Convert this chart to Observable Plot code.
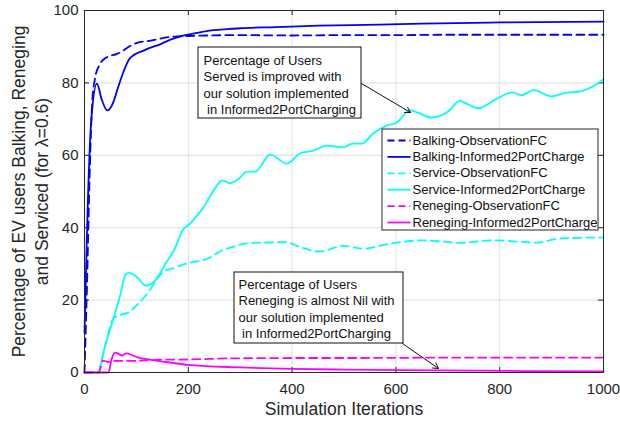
<!DOCTYPE html>
<html><head><meta charset="utf-8">
<script src="https://cdn.jsdelivr.net/npm/d3@7"></script>
<script src="https://cdn.jsdelivr.net/npm/@observablehq/plot@0.6"></script>
<style>body{margin:0;background:#fff}#chart svg{display:block}</style>
</head><body><div id="chart"></div>
<script>
// ---- data ----
const xTicks = [0, 200, 400, 600, 800, 1000];
const yTicks = [0, 20, 40, 60, 80, 100];
const seriesNames = ["Balking-ObservationFC", "Balking-Informed2PortCharge", "Service-ObservationFC", "Service-Informed2PortCharge", "Reneging-ObservationFC", "Reneging-Informed2PortCharge"];

const balkObsX = [0, 5, 10, 15, 20, 29, 42, 63, 96, 128, 173, 212, 300, 400, 500, 600, 700, 800, 900, 1000];
const balkObsY = [0, 25, 55, 75, 81, 85, 87, 88, 90.8, 91.7, 92.8, 93, 93.2, 93.1, 93.2, 93.2, 93.3, 93.3, 93.3, 93.3];

const balkInfX = [0, 5, 13, 24, 33, 44, 55, 63, 75, 87, 115, 148, 167, 192, 217, 244, 263, 300, 367, 450, 569, 650, 800, 1000];
const balkInfY = [11, 40, 69.6, 79.8, 75.5, 72.4, 74.5, 78, 83, 86.7, 89, 90.8, 92, 93.1, 93.8, 94.5, 94.7, 95.1, 95.4, 95.8, 96.1, 96.4, 96.7, 96.9];

const servObsX = [0, 25, 40, 56, 70, 85, 100, 121, 150, 175, 194, 238, 265, 281, 315, 390, 409, 454, 498, 537, 588, 652, 704, 723, 787, 871, 915, 1000];
const servObsY = [0, 0, 7.5, 15, 16, 16.6, 18.5, 21.8, 27.6, 29, 30, 31.5, 33.7, 34.5, 35.7, 36, 35, 33.4, 35, 34.2, 35.6, 36.5, 36, 35.8, 36.5, 35.9, 37, 37.3];

const servInfX = [0, 25, 40, 56, 69, 79, 86, 95, 104, 117, 136, 156, 175, 188, 204, 229, 249, 265, 281, 297, 313, 329, 358, 390, 415, 441, 467, 498, 517, 534, 556, 582, 601, 627, 642, 669, 700, 723, 740, 758, 794, 825, 842, 865, 900, 929, 954, 977, 1000];
const servInfY = [0, 0, 7.5, 15, 21.5, 27, 27.5, 27, 26, 24, 25.4, 30, 34.5, 39, 41.2, 45.6, 50.3, 53, 52.3, 53.5, 55.5, 55.5, 60.2, 57.7, 60.5, 61.3, 62.7, 62.2, 63.2, 63.2, 66, 68.2, 69, 72.4, 71.8, 70.4, 72, 75, 74, 73, 75.6, 77.4, 76.6, 78, 76.3, 77.3, 77.6, 78.8, 81];

const renObsX = [0, 28, 35, 45, 60, 100, 128, 200, 283, 400, 500, 700, 1000];
const renObsY = [0, 0, 3.3, 2.9, 3.2, 3.2, 3.5, 3.6, 3.9, 4.0, 4.0, 4.1, 4.1];

const renInfX = [0, 46, 52, 58, 65, 71, 81, 90, 102, 128, 167, 200, 300, 400, 500, 685, 850, 1000];
const renInfY = [0, 0, 3.5, 5.5, 5.2, 4.7, 5.3, 4.9, 4.2, 3.5, 2.7, 2.1, 1.4, 1.0, 0.8, 0.6, 0.4, 0.3];

const ann1Text = "Percentage of Users\nServed is improved with\nour solution implemented\n\u00a0in Informed2PortCharging";
const ann2Text = "Percentage of Users\nReneging is almost Nil with\nour solution implemented\n\u00a0in Informed2PortCharging";
const xLabel = "Simulation Iterations";
const yLabel = "Percentage of EV users Balking, Reneging\nand Serviced (for \u03bb=0.6)";

// ---- styles / layout ----
const colors = ["#0000ff", "#0000ff", "#00ffff", "#00ffff", "#ff00ff", "#ff00ff"];
const dashed = [true, false, true, false, true, false];
const W = 620, H = 423, mL = 84, mR = 17, mT = 10, mB = 51;
const xInv = px => (px - mL) / (W - mL - mR) * 1000;
const yInv = py => (H - mB - py) / (H - mB - mT) * 100;
const FONT = "'Liberation Sans', Arial, Helvetica, sans-serif";

const seriesXs = [balkObsX, balkInfX, servObsX, servInfX, renObsX, renInfX];
const seriesYs = [balkObsY, balkInfY, servObsY, servInfY, renObsY, renInfY];
const rows = seriesXs.flatMap((xs, k) => xs.map((x, j) => ({x, y: seriesYs[k][j], k})));

const lineMarks = seriesNames.map((n, k) => Plot.line(rows.filter(r => r.k === k), {
  x: "x", y: "y", stroke: colors[k], strokeWidth: 1.8,
  strokeDasharray: dashed[k] ? "8,5" : null, curve: "monotone-x"
}));

// legend
const legRows = seriesNames.map((n, k) => ({n, k, py: 140 + k * 16.4}));
const legendMarks = [
  Plot.rect([0], {x1: () => xInv(382), x2: () => xInv(598), y1: () => yInv(129), y2: () => yInv(230), fill: "white", stroke: "#262626", strokeWidth: 1}),
  ...legRows.map(r => Plot.link([r], {x1: () => xInv(387), x2: () => xInv(410), y1: d => yInv(d.py), y2: d => yInv(d.py), stroke: colors[r.k], strokeWidth: 1.8, strokeDasharray: dashed[r.k] ? "7,4" : null})),
  Plot.text(legRows, {x: () => xInv(412), y: d => yInv(d.py), text: "n", textAnchor: "start", fontSize: 13, fill: "#111"})
];

// annotations
const annMarks = [
  Plot.rect([0], {x1: () => xInv(198), x2: () => xInv(361), y1: () => yInv(47), y2: () => yInv(118), fill: "white", stroke: "#111", strokeWidth: 1}),
  Plot.text([ann1Text], {x: () => xInv(203), y: () => yInv(83.5), text: d => d, textAnchor: "start", lineAnchor: "middle", lineHeight: 1.27, fontSize: 13, fill: "#111"}),
  Plot.arrow([0], {x1: () => xInv(361), y1: () => yInv(83), x2: () => xInv(410), y2: () => yInv(112), stroke: "#111", strokeWidth: 1, headLength: 9}),
  Plot.rect([0], {x1: () => xInv(234), x2: () => xInv(403), y1: () => yInv(272), y2: () => yInv(343), fill: "white", stroke: "#111", strokeWidth: 1}),
  Plot.text([ann2Text], {x: () => xInv(238), y: () => yInv(307.5), text: d => d, textAnchor: "start", lineAnchor: "middle", lineHeight: 1.27, fontSize: 13, fill: "#111"}),
  Plot.arrow([0], {x1: () => xInv(402), y1: () => yInv(343), x2: () => xInv(438), y2: () => yInv(368), stroke: "#111", strokeWidth: 1, headLength: 9})
];

const tickLen = 5;
const chart = Plot.plot({
  width: W, height: H,
  marginLeft: mL, marginRight: mR, marginTop: mT, marginBottom: mB,
  style: {fontFamily: FONT, fontSize: "15px", color: "#262626", background: "white"},
  x: {domain: [0, 1000], ticks: xTicks, tickSize: 0, tickPadding: 11, label: null, tickFormat: d => String(d)},
  y: {domain: [0, 100], ticks: yTicks, tickSize: 0, tickPadding: 6, label: null, tickFormat: d => String(d)},
  marks: [
    Plot.ruleX(xTicks, {stroke: "#dedede", strokeWidth: 1}),
    Plot.ruleY(yTicks, {stroke: "#dedede", strokeWidth: 1}),
    Plot.ruleX(xTicks, {y1: () => 0, y2: () => yInv(H - mB - tickLen), stroke: "#262626"}),
    Plot.ruleX(xTicks, {y1: () => 100, y2: () => yInv(mT + tickLen), stroke: "#262626"}),
    Plot.ruleY(yTicks, {x1: () => 0, x2: () => xInv(mL + tickLen), stroke: "#262626"}),
    Plot.ruleY(yTicks, {x1: () => 1000, x2: () => xInv(W - mR - tickLen), stroke: "#262626"}),
    ...lineMarks,
    Plot.frame({stroke: "#262626", strokeWidth: 1}),
    ...legendMarks,
    ...annMarks,
    Plot.text([xLabel], {x: () => 500, y: () => yInv(409), text: d => d, fontSize: 17.5, fill: "#262626"}),
    Plot.text([yLabel], {x: () => xInv(28.5), y: () => 50, text: d => d, rotate: -90, fontSize: 17.5, lineHeight: 1.32, lineAnchor: "middle", fill: "#262626"})
  ]
});
document.getElementById("chart").appendChild(chart);
</script></body></html>
